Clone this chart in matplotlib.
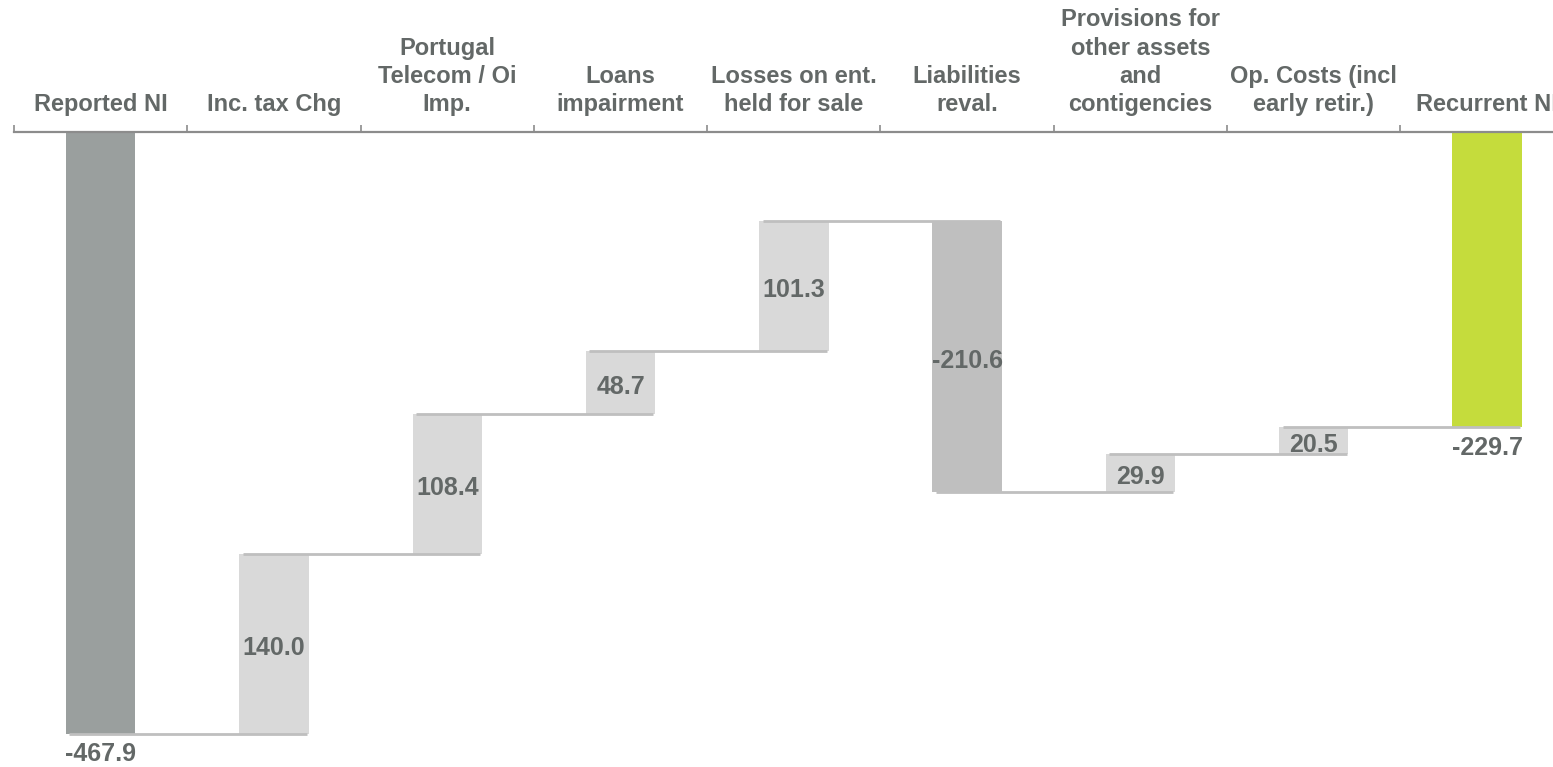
import matplotlib.pyplot as plt
import numpy as np

categories = [
    'Reported NI',
    'Inc. tax Chg',
    'Portugal\nTelecom / Oi\nImp.',
    'Loans\nimpairment',
    'Losses on ent.\nheld for sale',
    'Liabilities\nreval.',
    'Provisions for\nother assets\nand\ncontigencies',
    'Op. Costs (incl\nearly retir.)',
    'Recurrent NI',
]
reported_ni = -467.9
adjustments = [140.0, 108.4, 48.7, 101.3, -210.6, 29.9, 20.5]
recurrent_ni = -229.7

TEXT = '#636867'
TOTAL_GREY = '#9a9f9e'
UP_GREY = '#d9d9d9'
DOWN_GREY = '#bfbfbf'
GREEN = '#c5dc3c'
LINE = '#bfbfbf'

plt.rcParams['font.family'] = ['Liberation Sans', 'DejaVu Sans']

# bar extents: first and last bars hang from zero, the others float
bottoms = [0.0]
heights = [reported_ni]
colors = [TOTAL_GREY]
level = reported_ni
for adj in adjustments:
    bottoms.append(level)
    heights.append(adj)
    colors.append(UP_GREY if adj > 0 else DOWN_GREY)
    level += adj
bottoms.append(0.0)
heights.append(recurrent_ni)
colors.append(GREEN)
levels = [b + h for b, h in zip(bottoms, heights)]

fig = plt.figure(figsize=(15.53, 7.67), dpi=100)
ax = fig.add_axes([14 / 1553, 0, 9 * 173.3 / 1553, (767 - 131.7) / 767])

x = np.arange(len(categories))
width = 0.4
ax.bar(x, heights, bottom=bottoms, width=width, color=colors, zorder=2)

# connectors between consecutive bars at the running level
for i in range(len(categories) - 1):
    ax.plot([x[i] - 0.18, x[i + 1] + 0.19], [levels[i], levels[i]],
            color=LINE, lw=2, zorder=3, solid_capstyle='butt')

value_font = dict(color=TEXT, fontsize=18, fontweight='bold')
for i, (b, h) in enumerate(zip(bottoms, heights)):
    if i in (0, len(categories) - 1):
        ax.annotate(f'{h:.1f}', (x[i], b + h), xytext=(0, -6),
                    textcoords='offset points', ha='center', va='top',
                    **value_font)
    else:
        ax.annotate(f'{h:.1f}', (x[i], b + h / 2), xytext=(0, -3),
                    textcoords='offset points', ha='center', va='center',
                    zorder=4, **value_font)

ax.set_xlim(-0.5, len(categories) - 0.5)
ax.set_ylim(-493.8, 0)
ax.set_yticks([])

for side in ('left', 'right', 'bottom'):
    ax.spines[side].set_visible(False)
ax.spines['top'].set_color('#8c8c8c')
ax.spines['top'].set_linewidth(1.6)

ax.xaxis.tick_top()
ax.set_xticks(x)
ax.set_xticklabels(categories, linespacing=1.3, color=TEXT, fontsize=17,
                   fontweight='bold')
ax.set_xticks(np.arange(-0.5, len(categories)), minor=True)
ax.tick_params(axis='x', which='major', length=0, pad=11)
ax.tick_params(axis='x', which='minor', length=5, width=1.2,
               color='#8c8c8c', direction='out')

fig.savefig('out.png', dpi=100)
